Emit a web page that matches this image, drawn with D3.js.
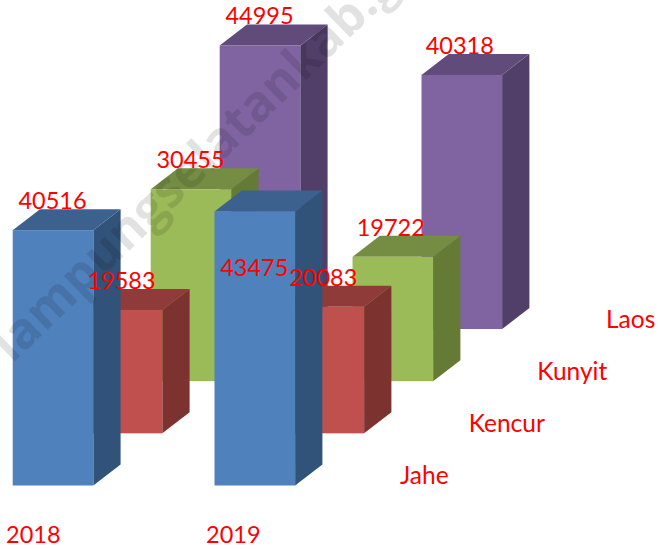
<!DOCTYPE html>
<html><head><meta charset="utf-8">
<script src="https://cdnjs.cloudflare.com/ajax/libs/d3/7.8.5/d3.min.js"></script>
<style>html,body{margin:0;padding:0;background:#fff}svg{display:block}text{font-family:Lato,sans-serif}</style>
</head><body><div id="c"></div>
<script>
const years = ["2018", "2019"];
const seriesNames = ["Laos", "Kunyit", "Kencur", "Jahe"];
const jahe = [40516, 43475];
const kencur = [19583, 20083];
const kunyit = [30455, 19722];
const laos = [44995, 40318];
const valuesBySeries = {Jahe: jahe, Kencur: kencur, Kunyit: kunyit, Laos: laos};
const front = {Jahe:"#4f81bd", Kencur:"#c0504d", Kunyit:"#9bbb59", Laos:"#8064a2"};
const side = {Jahe:"#325379", Kencur:"#7c322f", Kunyit:"#647a35", Laos:"#523f69"};
const topc = {Jahe:"#3c618f", Kencur:"#8f3b39", Kunyit:"#748d43", Laos:"#604b7b"};

const W=658,H=549, barW=80.6, dx=27.3, dy=21;
const svg=d3.select("#c").append("svg").attr("width",W).attr("height",H);
const xYear=d3.scalePoint().domain(years).range([12.7,214.5]);
const xYearLabel=d3.scalePoint().domain(years).range([6,206]);
const order=["Jahe","Kencur","Kunyit","Laos"];
const sx=d3.scalePoint().domain(order).range([0,207]);
const sy=d3.scalePoint().domain(order).range([0,-156.5]);
const sLabelX=d3.scalePoint().domain(order).range([400,606]);
const sLabelY=d3.scalePoint().domain(order).range([484,328]);
const h=d3.scaleLinear().domain([0,45000]).range([0,283.6]);
const base=485.5;
const poly=p=>p.map(q=>q.join(",")).join(" ");
const bars=[];
seriesNames.forEach(s=>years.forEach((y,i)=>bars.push({s,y,v:valuesBySeries[s][i]})));
const g=svg.selectAll("g.bar").data(bars).join("g").attr("class","bar");
g.each(function(d){
  const x0=xYear(d.y)+sx(d.s), x1=x0+barW, b=base+sy(d.s), t=b-h(d.v);
  const e=d3.select(this);
  e.append("polygon").attr("points",poly([[x1,t],[x1+dx,t-dy],[x1+dx,b-dy],[x1,b]])).attr("fill",side[d.s]);
  e.append("polygon").attr("points",poly([[x0,t],[x0+dx,t-dy],[x1+dx,t-dy],[x1,t]])).attr("fill",topc[d.s]);
  e.append("rect").attr("x",x0).attr("y",t).attr("width",barW).attr("height",b-t).attr("fill",front[d.s]);
});
// watermark
svg.append("text").attr("transform","translate(12,364) rotate(-44)")
  .attr("font-size",50).attr("font-weight",700).attr("fill","#000").attr("fill-opacity",0.115)
  .style("font-family","'Open Sans',sans-serif").text("lampungselatankab.go.id");
// value labels
const fs=23.5;
const labelLift={"43475":-85};
const labelShift={"40318":-1.5,"19722":-1.5};
const lab=svg.append("g").attr("fill","#ff0000").attr("font-size",fs).attr("text-anchor","middle");
bars.forEach(d=>{
  const x0=xYear(d.y)+sx(d.s), b=base+sy(d.s), t=b-h(d.v);
  lab.append("text").attr("x",x0+barW/2-0.5+(labelShift[d.v]||0)).attr("y",t-dy-(labelLift[d.v]||0)).text(d.v);
});
// axis labels
const ax=svg.append("g").attr("fill","#ff0000").attr("font-size",fs);
years.forEach(y=>ax.append("text").attr("x",xYearLabel(y)).attr("y",543).text(y));
order.forEach(s=>ax.append("text").attr("x",sLabelX(s)).attr("y",sLabelY(s)).attr("font-size",24.5).text(s));
</script></body></html>
